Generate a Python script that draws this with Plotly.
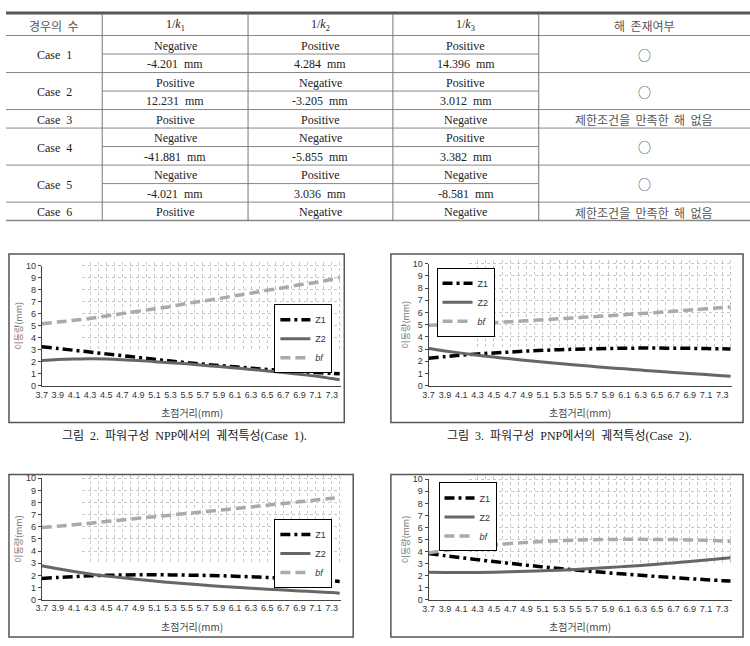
import plotly.graph_objects as go

W, H = 750, 646

# ---------------- data ----------------
X = [3.7, 3.9, 4.1, 4.3, 4.5, 4.7, 4.9, 5.1, 5.3, 5.5, 5.7, 5.9, 6.1, 6.3, 6.5, 6.7, 6.9, 7.1, 7.3, 7.4]
X_TICKS = [3.7, 3.9, 4.1, 4.3, 4.5, 4.7, 4.9, 5.1, 5.3, 5.5, 5.7, 5.9, 6.1, 6.3, 6.5, 6.7, 6.9, 7.1, 7.3]
X_TICK_LABELS = ["3.7", "3.9", "4.1", "4.3", "4.5", "4.7", "4.9", "5.1", "5.3", "5.5",
                 "5.7", "5.9", "6.1", "6.3", "6.5", "6.7", "6.9", "7.1", "7.3"]
Y_TICKS = [0, 1, 2, 3, 4, 5, 6, 7, 8, 9, 10]

CASE1_Z1 = [3.25, 3.1, 2.95, 2.8, 2.65, 2.5, 2.35, 2.2, 2.05, 1.92, 1.8, 1.68, 1.57, 1.46, 1.36, 1.27, 1.18, 1.1, 1.03, 1.0]
CASE1_Z2 = [2.1, 2.18, 2.22, 2.24, 2.22, 2.17, 2.1, 2.0, 1.92, 1.82, 1.7, 1.6, 1.48, 1.36, 1.23, 1.1, 0.95, 0.8, 0.6, 0.5]
CASE1_BF = [5.15, 5.3, 5.45, 5.6, 5.8, 6.0, 6.2, 6.4, 6.6, 6.85, 7.05, 7.25, 7.5, 7.7, 7.95, 8.15, 8.4, 8.6, 8.85, 9.0]

CASE2_Z1 = [2.25, 2.38, 2.5, 2.6, 2.68, 2.76, 2.84, 2.9, 2.95, 2.99, 3.02, 3.05, 3.07, 3.08, 3.08, 3.07, 3.06, 3.04, 3.02, 3.0]
CASE2_Z2 = [3.05, 2.85, 2.67, 2.5, 2.35, 2.2, 2.07, 1.94, 1.82, 1.7, 1.59, 1.48, 1.38, 1.28, 1.18, 1.09, 1.0, 0.91, 0.82, 0.77]
CASE2_BF = [4.95, 5.0, 5.05, 5.1, 5.17, 5.24, 5.32, 5.4, 5.48, 5.56, 5.64, 5.73, 5.82, 5.91, 6.0, 6.1, 6.2, 6.3, 6.4, 6.45]

CASE4_Z1 = [1.75, 1.83, 1.9, 1.96, 2.0, 2.03, 2.05, 2.05, 2.04, 2.02, 2.0, 1.97, 1.93, 1.88, 1.83, 1.77, 1.7, 1.63, 1.55, 1.5]
CASE4_Z2 = [2.8, 2.55, 2.32, 2.12, 1.95, 1.8, 1.66, 1.53, 1.41, 1.3, 1.2, 1.11, 1.02, 0.94, 0.86, 0.79, 0.72, 0.65, 0.58, 0.52]
CASE4_BF = [5.95, 6.05, 6.17, 6.3, 6.43, 6.56, 6.7, 6.83, 6.96, 7.1, 7.23, 7.37, 7.5, 7.64, 7.78, 7.92, 8.06, 8.2, 8.35, 8.42]

CASE5_Z1 = [3.85, 3.67, 3.5, 3.34, 3.18, 3.03, 2.88, 2.74, 2.6, 2.48, 2.36, 2.25, 2.14, 2.04, 1.94, 1.85, 1.76, 1.68, 1.6, 1.56]
CASE5_Z2 = [2.3, 2.28, 2.27, 2.28, 2.3, 2.33, 2.37, 2.42, 2.47, 2.53, 2.6, 2.68, 2.77, 2.86, 2.96, 3.07, 3.18, 3.3, 3.43, 3.5]
CASE5_BF = [3.9, 4.1, 4.28, 4.43, 4.56, 4.67, 4.77, 4.85, 4.91, 4.96, 4.99, 5.01, 5.02, 5.02, 5.01, 5.0, 4.97, 4.94, 4.89, 4.86]

SERIES_NAMES = ["Z1", "Z2", "<i>bf</i>"]
Y_TITLE = "이동량(mm)"
X_TITLE = "초점거리(mm)"
CAPTIONS = ["그림\u00a0\u00a02.\u00a0\u00a0파워구성\u00a0\u00a0NPP에서의\u00a0\u00a0궤적특성(Case\u00a0\u00a01).",
            "그림\u00a0\u00a03.\u00a0\u00a0파워구성\u00a0\u00a0PNP에서의\u00a0\u00a0궤적특성(Case\u00a0\u00a02).",
            None, None]

# table
HEADER = ["경우의\u00a0\u00a0수", "1/<i>k</i><sub>1</sub>", "1/<i>k</i><sub>2</sub>",
          "1/<i>k</i><sub>3</sub>", "해\u00a0\u00a0존재여부"]
CASES = ["Case\u00a0\u00a01", "Case\u00a0\u00a02", "Case\u00a0\u00a03",
         "Case\u00a0\u00a04", "Case\u00a0\u00a05", "Case\u00a0\u00a06"]
SIGN_K1 = ["Negative", "Positive", "Positive", "Negative", "Negative", "Positive"]
SIGN_K2 = ["Positive", "Negative", "Positive", "Negative", "Positive", "Negative"]
SIGN_K3 = ["Positive", "Positive", "Negative", "Positive", "Negative", "Negative"]
VAL_K1 = ["-4.201\u00a0\u00a0mm", "12.231\u00a0\u00a0mm", None, "-41.881\u00a0\u00a0mm", "-4.021\u00a0\u00a0mm", None]
VAL_K2 = ["4.284\u00a0\u00a0mm", "-3.205\u00a0\u00a0mm", None, "-5.855\u00a0\u00a0mm", "3.036\u00a0\u00a0mm", None]
VAL_K3 = ["14.396\u00a0\u00a0mm", "3.012\u00a0\u00a0mm", None, "3.382\u00a0\u00a0mm", "-8.581\u00a0\u00a0mm", None]
NO_SOL = "제한조건을\u00a0\u00a0만족한\u00a0\u00a0해\u00a0\u00a0없음"
SOLUTION = ["○", "○", NO_SOL, "○", "○", NO_SOL]

# ---------------- layout helpers ----------------
def fx(p):
    return p / W

def fy(p):
    return 1 - p / H

SERIF = "Liberation Serif, Noto Sans CJK KR"
SANS = "Liberation Sans, Arial, sans-serif"
KR = "Noto Sans CJK KR"

fig = go.Figure()
shapes = []
annotations = []
layout = dict(width=W, height=H, margin=dict(l=0, r=0, t=0, b=0),
              paper_bgcolor="white", plot_bgcolor="rgba(0,0,0,0)", showlegend=True)

# ---------------- table ----------------
TABLE_TOP = 8
HEADER_BOTTOM = 31
ROW_H = 18.8
COL_EDGES = [0, 97, 244, 390, 537, 750]
col_c = [(COL_EDGES[i] + COL_EDGES[i + 1]) / 2 for i in range(5)]

def line(x0, y0, x1, y1, color="#888", width=1):
    shapes.append(dict(type="line", xref="paper", yref="paper",
                       x0=fx(x0), y0=fy(y0), x1=fx(x1), y1=fy(y1),
                       line=dict(color=color, width=width)))

def text(x, y, s, size=12, family=SERIF, color="#222", **kw):
    annotations.append(dict(xref="paper", yref="paper", x=fx(x), y=fy(y), text=s,
                            showarrow=False, xanchor=kw.get("xanchor", "center"),
                            yanchor="middle", textangle=kw.get("angle", 0),
                            font=dict(size=size, family=family, color=color)))

line(0, TABLE_TOP, 750, TABLE_TOP, color="#555", width=3)
for i, h in enumerate(HEADER):
    fam = KR if i in (0, 4) else SERIF
    col = "#555" if i in (0, 4) else "#222"
    text(col_c[i], (TABLE_TOP + HEADER_BOTTOM) / 2 + 1, h, family=fam, color=col)
line(0, HEADER_BOTTOM, 750, HEADER_BOTTOM)

y = HEADER_BOTTOM
for i, case in enumerate(CASES):
    two = VAL_K1[i] is not None
    nrows = 2 if two else 1
    y_end = y + nrows * ROW_H
    mid = (y + y_end) / 2
    text(col_c[0], mid + 1, case)
    if SOLUTION[i] == "○":
        text(col_c[4], mid, SOLUTION[i], size=13, family=KR, color="#444")
    else:
        text(col_c[4], mid + 1, SOLUTION[i], family=KR, color="#555")
    r0 = y + ROW_H / 2 + 1
    for j, s in enumerate([SIGN_K1[i], SIGN_K2[i], SIGN_K3[i]]):
        text(col_c[j + 1], r0, s)
    if two:
        r1 = y + ROW_H * 1.5 + 1
        for j, s in enumerate([VAL_K1[i], VAL_K2[i], VAL_K3[i]]):
            text(col_c[j + 1], r1, s)
        line(COL_EDGES[1], y + ROW_H, COL_EDGES[4], y + ROW_H)
    line(0, y_end, 750, y_end, width=1.5 if i == len(CASES) - 1 else 1)
    y = y_end
TABLE_BOTTOM = y
for xe in COL_EDGES[1:5]:
    line(xe, TABLE_TOP + 1.5, xe, TABLE_BOTTOM, color="#777")

# ---------------- charts ----------------
CHARTS = [
    dict(data=(CASE1_Z1, CASE1_Z2, CASE1_BF), plot=(36, 338, 264.7, 386.7),
         frame=(3, 253, 341, 424), leg=(329, 304, "right"), cap=CAPTIONS[0], cap_x=180),
    dict(data=(CASE2_Z1, CASE2_Z2, CASE2_BF), plot=(426, 732, 262.7, 386.7),
         frame=(388, 253, 743, 424), leg=(434, 267, "left"), cap=CAPTIONS[1], cap_x=568),
    dict(data=(CASE4_Z1, CASE4_Z2, CASE4_BF), plot=(36, 338, 480.7, 604),
         frame=(3, 477, 350, 642), leg=(329, 522, "right"), cap=None),
    dict(data=(CASE5_Z1, CASE5_Z2, CASE5_BF), plot=(426, 732, 481.7, 604.3),
         frame=(388, 477, 743, 642), leg=(436, 485, "left"), cap=None),
]

X_MIN, X_MAX = 3.7, 7.42
GRID_X0, GRID_Y0, GRID_Y1 = 4.2, 3, 10.3
STYLES = [
    dict(color="black", width=3.5, dash="10px,4px,3px,4px"),
    dict(color="#666666", width=3, dash="solid"),
    dict(color="#aaaaaa", width=3.5, dash="10px,5px"),
]
GRID_STYLE = dict(showgrid=True, gridcolor="#c8c8c8", gridwidth=1, griddash="3px,3px",
                  showticklabels=False, zeroline=False, showline=False, ticks="")

for k, ch in enumerate(CHARTS):
    left, right, top, bottom = ch["plot"]
    pxu = (right - left) / (X_MAX - X_MIN)
    pyu = (bottom - top) / 10.0
    # partial dashed grid region (drawn first, so beneath the curves)
    gi = k + 1
    gx = "xaxis" if gi == 1 else f"xaxis{gi}"
    gy = "yaxis" if gi == 1 else f"yaxis{gi}"
    gx_left = left + (GRID_X0 - X_MIN) * pxu
    gy_bot = bottom - GRID_Y0 * pyu
    gy_top = bottom - GRID_Y1 * pyu
    layout[gx] = dict(domain=[fx(gx_left), fx(right)], range=[GRID_X0, X_MAX],
                      anchor=f"y{gi}" if gi > 1 else "y", tick0=GRID_X0, dtick=0.1,
                      **GRID_STYLE)
    layout[gy] = dict(domain=[fy(gy_bot), fy(gy_top)], range=[GRID_Y0, GRID_Y1],
                      anchor=f"x{gi}" if gi > 1 else "x", tick0=0, dtick=1,
                      **GRID_STYLE)
    fig.add_trace(go.Scatter(x=[], y=[], xaxis="x" if gi == 1 else f"x{gi}",
                             yaxis="y" if gi == 1 else f"y{gi}", showlegend=False,
                             hoverinfo="skip"))

    ci = k + 5
    layout[f"xaxis{ci}"] = dict(domain=[fx(left), fx(right)], range=[X_MIN, X_MAX],
                                anchor=f"y{ci}", tickvals=X_TICKS, ticktext=X_TICK_LABELS,
                                tickfont=dict(size=9, family=SANS, color="#333"),
                                showline=True, linecolor="#444", linewidth=1, ticks="",
                                showgrid=False, zeroline=False)
    layout[f"yaxis{ci}"] = dict(domain=[fy(bottom), fy(top)], range=[0, 10],
                                anchor=f"x{ci}", tickvals=Y_TICKS,
                                tickfont=dict(size=9, family=SANS, color="#333"),
                                showline=True, linecolor="#444", linewidth=1,
                                ticks="outside", ticklen=3, tickcolor="#444",
                                showgrid=False, zeroline=False)
    legname = "legend" if k == 0 else f"legend{k + 1}"
    lx, ly, side = ch["leg"]
    layout[legname] = dict(x=fx(lx), y=fy(ly), xanchor=side, yanchor="top",
                           xref="paper", yref="paper",
                           bgcolor="white", bordercolor="black", borderwidth=1,
                           font=dict(size=9, family=SANS, color="#333"),
                           itemwidth=30, tracegroupgap=0)
    for s, (vals, name) in enumerate(zip(ch["data"], SERIES_NAMES)):
        fig.add_trace(go.Scatter(x=X, y=vals, name=name, mode="lines",
                                 line=dict(shape="spline", **STYLES[s]),
                                 xaxis=f"x{ci}", yaxis=f"y{ci}", legend=legname,
                                 hoverinfo="skip"))
    # frame
    f0x, f0y, f1x, f1y = ch["frame"]
    shapes.append(dict(type="rect", xref="paper", yref="paper",
                       x0=fx(f0x), y0=fy(f0y), x1=fx(f1x), y1=fy(f1y),
                       line=dict(color="#555", width=1.5)))
    # axis titles
    text(left - 23, (top + bottom) / 2, Y_TITLE, size=9, family=KR, color="#777", angle=-90)
    text((left + right) / 2, bottom + 27, X_TITLE, size=10, family=KR, color="#444")
    if ch["cap"]:
        text(ch["cap_x"], 438, ch["cap"], size=12, family=SERIF, color="#222")

layout["shapes"] = shapes
layout["annotations"] = annotations
fig.update_layout(**layout)
fig.write_html("out.html", config={"displayModeBar": False})
